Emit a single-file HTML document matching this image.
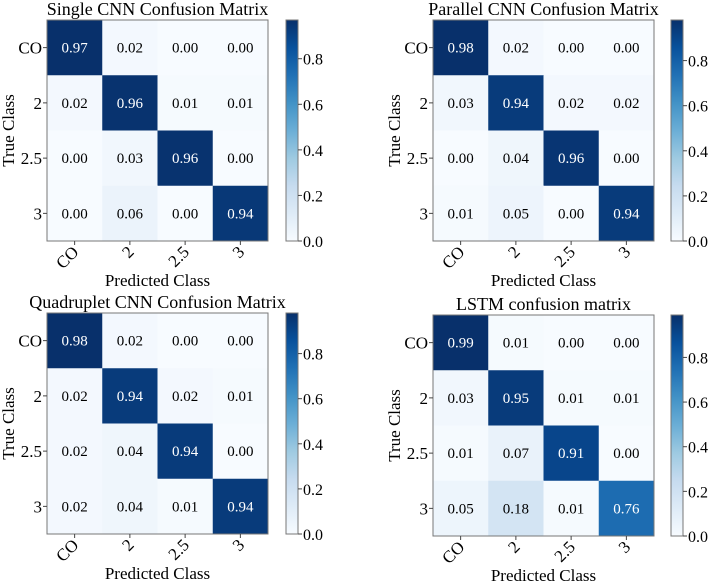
<!DOCTYPE html>
<html><head><meta charset="utf-8"><style>
html,body{margin:0;padding:0;background:#fff;}
svg{display:block;font-family:"Liberation Serif",serif;}
</style></head><body>
<svg id="fig" width="708" height="582" viewBox="0 0 708 582"></svg>
<script>
const classLabels = ["CO","2","2.5","3"];
const titles = ["Single CNN Confusion Matrix","Parallel CNN Confusion Matrix","Quadruplet CNN Confusion Matrix","LSTM confusion matrix"];
const singleCNN = [[0.97,0.02,0.00,0.00],[0.02,0.96,0.01,0.01],[0.00,0.03,0.96,0.00],[0.00,0.06,0.00,0.94]];
const parallelCNN = [[0.98,0.02,0.00,0.00],[0.03,0.94,0.02,0.02],[0.00,0.04,0.96,0.00],[0.01,0.05,0.00,0.94]];
const quadCNN = [[0.98,0.02,0.00,0.00],[0.02,0.94,0.02,0.01],[0.02,0.04,0.94,0.00],[0.02,0.04,0.01,0.94]];
const lstm = [[0.99,0.01,0.00,0.00],[0.03,0.95,0.01,0.01],[0.01,0.07,0.91,0.00],[0.05,0.18,0.01,0.76]];
const cbarTicks = [0.0,0.2,0.4,0.6,0.8];
const matrices = [singleCNN, parallelCNN, quadCNN, lstm];
const panelNames = ["single-cnn","parallel-cnn","quadruplet-cnn","lstm"];
const layout = [
 {x:47,y:20,cx:286},{x:433,y:20,cx:671},{x:47,y:313,cx:286},{x:433,y:315,cx:671}
];
const SIZE=221, CBW=12;
const stops=["#f7fbff","#deebf7","#c6dbef","#9ecae1","#6baed6","#4292c6","#2171b5","#08519c","#08306b"];
function hex(h){return [1,3,5].map(i=>parseInt(h.substr(i,2),16));}
function blues(t){t=Math.max(0,Math.min(1,t));const p=t*8,i=Math.min(7,Math.floor(p)),f=p-i;const a=hex(stops[i]),b=hex(stops[i+1]);return "rgb("+a.map((v,k)=>Math.round(v+(b[k]-v)*f)).join(",")+")";}
const NS="http://www.w3.org/2000/svg";
const svg=document.getElementById("fig");
function el(tag,attrs,parent,text){const e=document.createElementNS(NS,tag);for(const k in attrs)e.setAttribute(k,attrs[k]);if(text!==undefined)e.textContent=text;(parent||svg).appendChild(e);return e;}
matrices.forEach((m,pi)=>{
 const L=layout[pi];const vmax=Math.max(...m.flat());const n=classLabels.length;const cs=SIZE/n;
 const g=el("g",{});
 
 
 const xs=j=>L.x+j*cs, ys=i=>L.y+i*cs;
 const t=el("text",{x:L.x+SIZE/2,y:L.y-5,"text-anchor":"middle","font-size":"18"},g,titles[pi]);
 
 
 m.forEach((row,i)=>row.forEach((v,j)=>{
  const r=el("rect",{x:xs(j),y:ys(i),width:cs+0.5,height:cs+0.5,fill:blues(v/vmax)},g);
  
  
  const tx=el("text",{x:xs(j)+cs/2,y:ys(i)+cs/2+5,"text-anchor":"middle","font-size":"15",fill:v>vmax/2?"#fff":"#000"},g,v.toFixed(2));
  
  
 }));
 el("rect",{x:L.x,y:L.y,width:SIZE,height:SIZE,fill:"none",stroke:"#777","stroke-width":1},g);
 classLabels.forEach((c,k)=>{
  const yy=ys(k)+cs/2;
  el("line",{x1:L.x-4,x2:L.x,y1:yy,y2:yy,stroke:"#444"},g);
  const yl=el("text",{x:L.x-5,y:yy+6,"text-anchor":"end","font-size":"17"},g,c);
  
  
  const xx=xs(k)+cs/2;
  el("line",{x1:xx,x2:xx,y1:L.y+SIZE,y2:L.y+SIZE+4,stroke:"#444"},g);
  const xl=el("text",{x:xx+5,y:L.y+SIZE+12,"text-anchor":"end","font-size":"17",transform:"rotate(-45 "+(xx+5)+" "+(L.y+SIZE+12)+")"},g,c);
  
  
 });
 const ylab=el("text",{x:0,y:0,"text-anchor":"middle","font-size":"17",transform:"translate("+(L.x-33)+","+(L.y+SIZE/2)+") rotate(-90)"},g,"True Class");
 
 
 const xlab=el("text",{x:L.x+SIZE/2,y:L.y+SIZE+45,"text-anchor":"middle","font-size":"17"},g,"Predicted Class");
 
 
 const cbs=v=>L.y+SIZE-v/vmax*SIZE;
 const gid="grad"+pi;
 const defs=el("defs",{},g);const lg=el("linearGradient",{id:gid,x1:0,y1:1,x2:0,y2:0},defs);
 stops.forEach((s,k)=>el("stop",{offset:(k/8),"stop-color":s},lg));
 const cb=el("rect",{x:L.cx,y:L.y,width:CBW,height:SIZE,fill:"url(#"+gid+")",stroke:"#777"},g);
 
 
 cbarTicks.forEach(v=>{
  const yy=cbs(v);
  el("line",{x1:L.cx+CBW,x2:L.cx+CBW+4,y1:yy,y2:yy,stroke:"#444"},g);
  const tl=el("text",{x:L.cx+CBW+5,y:yy+6,"font-size":"16"},g,v.toFixed(1));
  
  
 });
});
</script>
</body></html>
